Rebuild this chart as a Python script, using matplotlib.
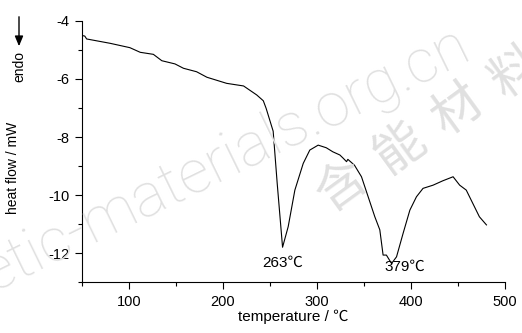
import matplotlib
matplotlib.use('Agg')
from matplotlib import pyplot as plt
from matplotlib.patches import FancyArrowPatch

# DSC curve
temp = [50, 53, 55, 80, 101, 112, 126, 135, 149, 158, 172, 183, 204, 222, 236, 243,
        246, 253.5, 257.8, 263.5, 269.5, 276.6, 285.5, 292.5, 301.4, 310, 317, 324.5,
        328, 331.6, 333, 340, 347.5, 354.6, 361.7, 367, 370.5, 374, 379.5, 384.8,
        391.8, 399, 406, 413, 423.7, 434, 445, 452, 459, 466, 473, 480.5]
heat = [-4.50, -4.52, -4.62, -4.77, -4.92, -5.08, -5.15, -5.37, -5.48, -5.63, -5.75,
        -5.94, -6.15, -6.24, -6.55, -6.75, -7.01, -7.80, -9.60, -11.80, -11.09, -9.83,
        -8.91, -8.45, -8.28, -8.37, -8.51, -8.62, -8.73, -8.85, -8.77, -8.97, -9.37,
        -10.06, -10.75, -11.20, -12.07, -12.07, -12.36, -12.13, -11.32, -10.52,
        -10.06, -9.77, -9.66, -9.51, -9.37, -9.66, -9.83, -10.29, -10.75, -11.03]
peaks = [263, 379]

plt.rcParams['font.family'] = ['Liberation Sans', 'Noto Sans CJK SC', 'DejaVu Sans']
plt.rcParams['axes.unicode_minus'] = False
plt.rcParams['font.size'] = 10.5

W, H = 522, 333
fig = plt.figure(figsize=(5.22, 3.33), dpi=100)

# watermarks (very light, behind everything)
wm = '#e0e0e0'
fig.text(-8 / W, 1 - 292 / H, 'etic-materials.org.cn', rotation=26, rotation_mode='anchor',
         color=wm, fontsize=44, family=['Roboto', 'DejaVu Sans'], fontweight='light',
         ha='left', va='baseline', zorder=0)
for i, ch in enumerate('含能材料'):
    fig.text((342 + 58 * i) / W, 1 - (187 - 38 * i) / H, ch, rotation=36,
             color=wm, fontsize=36, family=['Noto Sans CJK SC'], fontweight='light',
             ha='center', va='center', zorder=0)

ax = fig.add_axes([0.157, 0.153, 0.81, 0.784])
ax.patch.set_alpha(0)
ax.plot(temp, heat, color='black', lw=0.8)

ax.set_xlim(50, 500)
ax.set_ylim(-13, -4)
ax.set_xticks([100, 200, 300, 400, 500])
ax.set_xticks([50, 150, 250, 350, 450], minor=True)
ax.set_yticks([-12, -10, -8, -6, -4])
ax.set_yticks([-13, -11, -9, -7, -5], minor=True)
ax.tick_params(which='major', length=5, width=0.8, direction='out', pad=4, labelsize=10.5)
ax.tick_params(which='minor', length=3, width=0.8, direction='out')
for s in ['top', 'right']:
    ax.spines[s].set_visible(False)
ax.set_xlabel('temperature / ℃', labelpad=1, fontsize=11)
ax.set_ylabel('heat flow / mW', fontsize=10)
ax.yaxis.set_label_coords(-0.147, 0.437)

ax.text(peaks[0] + 1, -12.34, '263℃', ha='center', va='center', fontsize=11)
ax.text(peaks[1] + 15, -12.48, '379℃', ha='center', va='center', fontsize=11)

# endo arrow
fig.text(19 / W, 1 - 66 / H, 'endo', rotation=90, ha='center', va='center', fontsize=10)
fig.add_artist(FancyArrowPatch(
    (19 / W, 1 - 14 / H), (19 / W, 1 - 49 / H), transform=fig.transFigure,
    arrowstyle='-|>,head_length=0.6,head_width=0.25', mutation_scale=10,
    color='black', lw=1))

fig.savefig('out.png', dpi=100)
